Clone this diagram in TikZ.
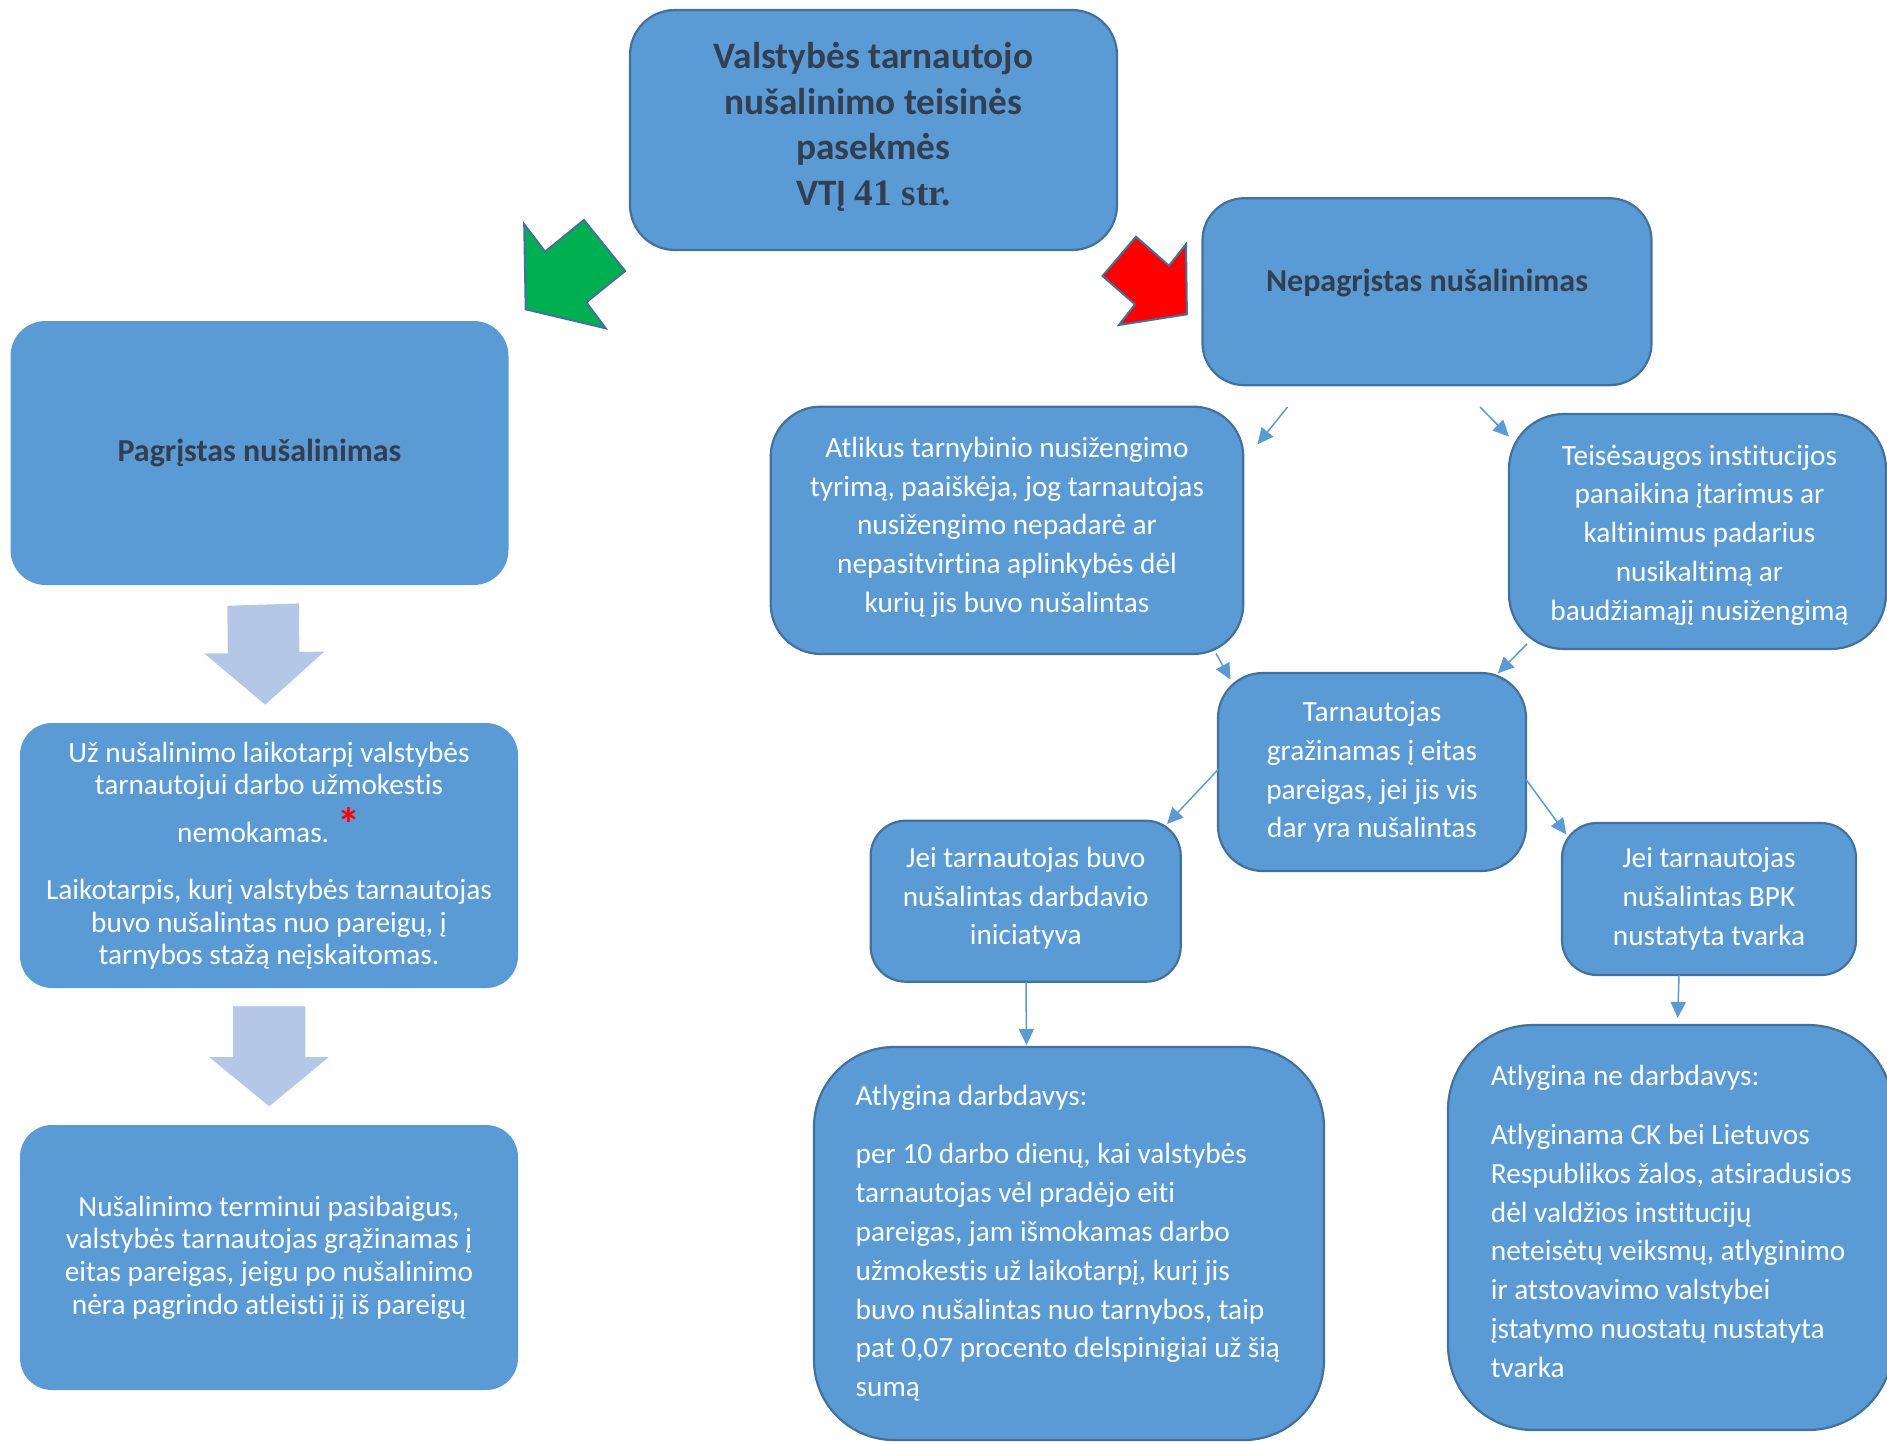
\documentclass[tikz,border=0pt]{standalone}
\usepackage{fontspec}
\setmainfont{Carlito}[Ligatures=NoCommon]
\newfontfamily\timesfont{Liberation Serif}
\usetikzlibrary{arrows.meta,calc}
\definecolor{boxblue}{HTML}{5B9BD5}
\definecolor{boxline}{HTML}{41719C}
\definecolor{titlecol}{HTML}{333F50}
\definecolor{lightarrow}{HTML}{B4C7E7}
\definecolor{greenarrow}{HTML}{00B050}
\definecolor{redarrow}{HTML}{FF0000}
\begin{document}
\begin{tikzpicture}[x=1pt,y=-1pt,
  box/.style={rectangle, fill=boxblue, draw=boxline, line width=2.2pt, inner sep=0pt, outer sep=0pt},
  sbox/.style={rectangle, fill=boxblue, inner sep=0pt, outer sep=0pt},
  body/.style={text=white, inner sep=0pt, font=\fontsize{29.3}{38.8}\selectfont, align=center},
  lbody/.style={text=white, inner sep=0pt, font=\fontsize{29.3}{38.8}\selectfont, align=left},
  sbody/.style={text=white, inner sep=0pt, font=\fontsize{29.3}{32.6}\selectfont, align=center},
  title/.style={text=titlecol, inner sep=0pt, font=\fontsize{37.3}{45.5}\selectfont\bfseries, align=center},
  sub/.style={text=titlecol, inner sep=0pt, font=\fontsize{32}{39}\selectfont\bfseries},
  conn/.style={draw=boxblue, line width=1.5pt, -{Triangle[length=16pt,width=15pt]}},
  bigarrow/.style={draw=boxline, line width=2pt, line join=miter},
  blockarrow/.style={fill=lightarrow, draw=none}
]
\useasboundingbox (0,0) rectangle (1887,1441);

% ---------- boxes ----------
\node[box, minimum width=487pt, minimum height=240pt, rounded corners=45pt] (top) at (873.5,130) {};
\node[box, minimum width=449pt, minimum height=187pt, rounded corners=42pt] (nep) at (1427,291.7) {};
\node[sbox, minimum width=498pt, minimum height=264pt, rounded corners=35pt] (pag) at (259.5,453) {};
\node[sbox, minimum width=498pt, minimum height=265pt, rounded corners=32pt] (uz) at (269,855.5) {};
\node[sbox, minimum width=498pt, minimum height=265pt, rounded corners=32pt] (nus) at (269,1257.5) {};
\node[box, minimum width=472.6pt, minimum height=247.3pt, rounded corners=50pt] (atl) at (1007,530.3) {};
\node[box, minimum width=377pt, minimum height=235pt, rounded corners=55pt] (teis) at (1697.5,531.5) {};
\node[box, minimum width=308pt, minimum height=198pt, rounded corners=45pt] (tarn) at (1372,772) {};
\node[box, minimum width=310pt, minimum height=161pt, rounded corners=35pt] (jd) at (1025.7,901.2) {};
\node[box, minimum width=294pt, minimum height=152pt, rounded corners=35pt] (bpk) at (1709,899) {};
\node[box, minimum width=510pt, minimum height=393pt, rounded corners=80pt] (ad) at (1069,1243.5) {};
\node[box, minimum width=445pt, minimum height=405pt, rounded corners=85pt] (an) at (1670.5,1227.5) {};

% ---------- texts ----------
\node[title] (topT) at ([yshift=3pt]top.center) {Valstybės tarnautojo\\nušalinimo teisinės\\pasekmės\\VTĮ {\timesfont 41 str.}};
\node[sub] (nepT) at ([yshift=8.7pt]nep.center) {Nepagrįstas nušalinimas};
\node[sub] (pagT) at (pag.center) {Pagrįstas nušalinimas};
\node[sbody] (uzT) at (uz.center) {Už nušalinimo laikotarpį valstybės\\tarnautojui darbo užmokestis\\[15.4pt]nemokamas. \smash{\raisebox{2pt}{\textcolor{red}{\fontsize{46}{46}\selectfont\bfseries *}}}\\[24.2pt]Laikotarpis, kurį valstybės tarnautojas\\buvo nušalintas nuo pareigų, į\\tarnybos stažą neįskaitomas.};
\node[sbody] (nusT) at (nus.center) {Nušalinimo terminui pasibaigus,\\valstybės tarnautojas grąžinamas į\\eitas pareigas, jeigu po nušalinimo\\nėra pagrindo atleisti jį iš pareigų};
\node[body] (atlT) at ([yshift=3pt]atl.center) {Atlikus tarnybinio nusižengimo\\tyrimą, paaiškėja, jog tarnautojas\\nusižengimo nepadarė ar\\nepasitvirtina aplinkybės dėl\\kurių jis buvo nušalintas};
\node[body] (teisT) at ([xshift=2pt,yshift=-3.5pt]teis.center) {Teisėsaugos institucijos\\panaikina įtarimus ar\\kaltinimus padarius\\nusikaltimą ar\\baudžiamąjį nusižengimą};
\node[body] (tarnT) at (tarn.center) {Tarnautojas\\gražinamas į eitas\\pareigas, jei jis vis\\dar yra nušalintas};
\node[body] (jdT) at ([yshift=3pt]jd.center) {Jei tarnautojas buvo\\nušalintas darbdavio\\iniciatyva};
\node[body] (bpkT) at (bpk.center) {Jei tarnautojas\\nušalintas BPK\\nustatyta tvarka};
\node[lbody, anchor=west] (adT) at ([xshift=41.5pt,yshift=0.5pt]ad.west) {Atlygina darbdavys:\\[20pt]per 10 darbo dienų, kai valstybės\\tarnautojas vėl pradėjo eiti\\pareigas, jam išmokamas darbo\\užmokestis už laikotarpį, kurį jis\\buvo nušalintas nuo tarnybos, taip\\pat 0,07 procento delspinigiai už šią\\sumą};
\node[lbody, anchor=west] (anT) at ([xshift=42.7pt,yshift=6pt]an.west) {Atlygina ne darbdavys:\\[20pt]Atlyginama CK bei Lietuvos\\Respublikos žalos, atsiradusios\\dėl valdžios institucijų\\neteisėtų veiksmų, atlyginimo\\ir atstovavimo valstybei\\įstatymo nuostatų nustatyta\\tvarka};

% ---------- connectors ----------
\draw[conn] ([shift={(85,21.8)}]nep.south west) -- ([shift={(14.2,37.7)}]atl.north east);
\draw[conn] ([shift={(53,21.8)}]nep.south) -- ([shift={(0,22.5)}]teis.north west);
\draw[conn] ([shift={(-27.3,-0.5)}]atl.south east) -- ([shift={(12.5,6.6)}]tarn.north west);
\draw[conn] ([shift={(18,-5)}]teis.south west) -- ([shift={(-28.2,0.3)}]tarn.north east);
\draw[conn] ([shift={(0.3,-2.7)}]tarn.west) -- ([shift={(-13.7,3.3)}]jd.north east);
\draw[conn] ([shift={(-0.2,7.2)}]tarn.east) -- ([shift={(4.4,11.5)}]bpk.north west);
\draw[conn] ([shift={(0.3,0)}]jd.south) -- ([shift={(-42.5,-2)}]ad.north);
\draw[conn] ([shift={(-30,0)}]bpk.south) -- ([shift={(7.2,-7)}]an.north);

% ---------- big coloured arrows ----------
\draw[bigarrow, fill=greenarrow] (524.2,224.3) -- (545.1,251.7) -- (583.9,220) -- (625.1,271) -- (586.3,302.3) -- (605.7,328.3) -- (525.7,309.3) -- cycle;
\draw[bigarrow, fill=redarrow] (1136,236.7) -- (1169,265.7) -- (1186,244.3) -- (1186.9,314.3) -- (1119,325) -- (1135,304.3) -- (1102.5,276) -- cycle;

% ---------- light block arrows ----------
\fill[blockarrow] (227.3,605.8) -- (298.9,603.4) -- (299.4,652) -- (324.4,651.5) -- (265.2,704.7) -- (204.2,653.3) -- (227.8,653.3) -- cycle;
\fill[blockarrow] (233.1,1006.3) -- (305.4,1006.3) -- (305.4,1057) -- (328.9,1057) -- (269.3,1106.2) -- (209,1057) -- (233.1,1057) -- cycle;
\end{tikzpicture}
\end{document}
